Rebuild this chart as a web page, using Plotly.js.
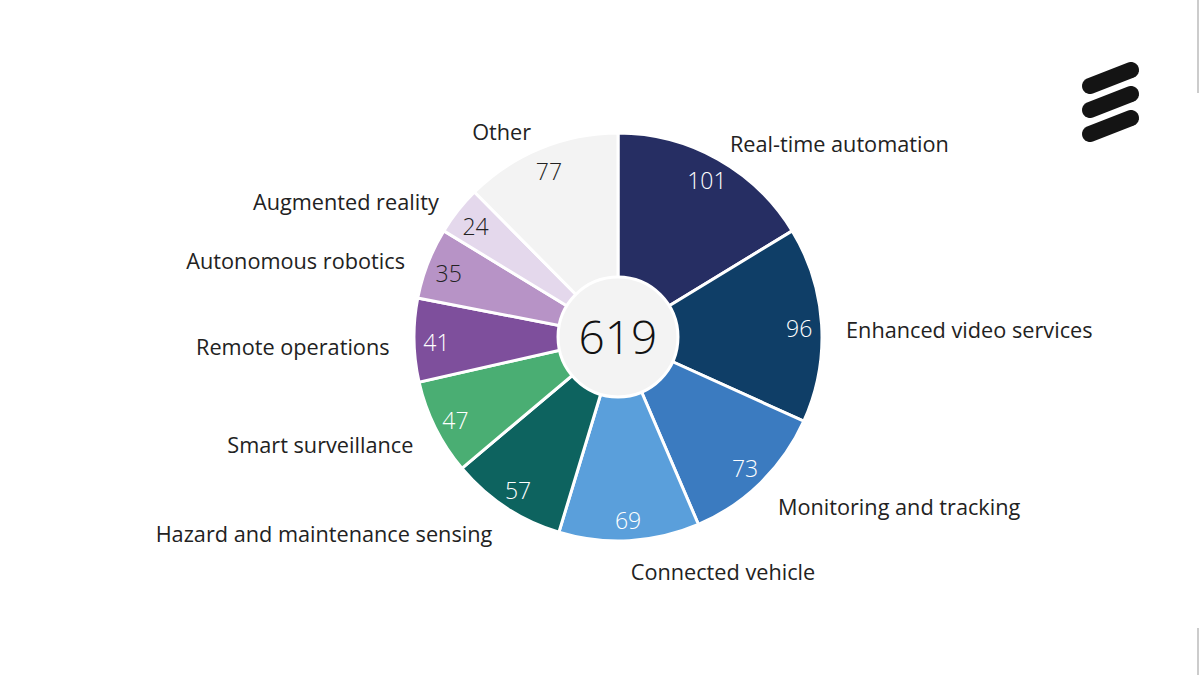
<!DOCTYPE html>
<html>
<head>
<meta charset="utf-8">
<script src="https://cdn.plot.ly/plotly-3.0.1.min.js"></script>
<style>html,body{margin:0;padding:0;background:#fff;}#chart{width:1200px;height:675px;}</style>
</head>
<body>
<div id="chart"></div>
<script>
// ---- data ----
const categories = ["Real-time automation","Enhanced video services","Monitoring and tracking","Connected vehicle","Hazard and maintenance sensing","Smart surveillance","Remote operations","Autonomous robotics","Augmented reality","Other"];
const values = [101, 96, 73, 69, 57, 47, 41, 35, 24, 77];
const colors = ["#262e63","#0f3e67","#3b7bc0","#5a9fdb","#0d635f","#4aae73","#7e4f9c","#b793c6","#e4d8ec","#f3f3f3"];
const valueTextColors = ["#ffffff","#ffffff","#ffffff","#ffffff","#ffffff","#ffffff","#ffffff","#222222","#222222","#222222"];
const centerTotal = 619;

// ---- derived angular layout ----
const total = values.reduce((a,b)=>a+b,0);
const widths = values.map(v => v/total*360);
const mids = [];
let acc = 0;
widths.forEach(w => { mids.push(acc + w/2); acc += w; });

const FONT = "'Open Sans', 'Noto Sans', sans-serif";

const slices = {
  type: "barpolar", subplot: "polar",
  r: values.map(()=>1),
  theta: mids,
  width: widths,
  base: values.map(()=>0),
  marker: {color: colors, line: {color: "#ffffff", width: 3}},
  hoverinfo: "skip",
  showlegend: false
};
const hole = {
  type: "barpolar", subplot: "polar",
  r: [0.294], theta: [0], width: [360], base: [0],
  marker: {color: "#f3f3f3", line: {color: "#ffffff", width: 3}},
  hoverinfo: "skip", showlegend: false
};
const valueText = {
  type: "scatterpolar", mode: "text", subplot: "polar2",
  r: values.map(()=>0.89), theta: mids,
  text: values.map(String),
  textposition: "middle center",
  textfont: {family: FONT, size: 23, color: valueTextColors, weight: 300},
  cliponaxis: false, hoverinfo: "skip", showlegend: false
};
const centerText = {
  type: "scatterpolar", mode: "text", subplot: "polar2",
  r: [0], theta: [0], text: [String(centerTotal)],
  textposition: "middle center",
  textfont: {family: FONT, size: 46, color: "#111111", weight: 300},
  cliponaxis: false, hoverinfo: "skip", showlegend: false
};
const labelText = {
  type: "scatterpolar", mode: "text", subplot: "polar3",
  r: values.map(()=>1.12), theta: mids,
  text: categories,
  textposition: mids.map(m => m < 180 ? "middle right" : "middle left"),
  textfont: {family: FONT, size: 21.7, color: "#222222"},
  cliponaxis: false, hoverinfo: "skip", showlegend: false
};

// ---- logo (Ericsson-style bars) ----
function px(x){return x/1200;}
function py(y){return 1 - y/675;}
function stadium(x1,y1,x2,y2,rad){
  const dx=x2-x1, dy=y2-y1;
  const a=Math.atan2(dy,dx);
  const pts=[];
  const n=12;
  for(let i=0;i<=n;i++){const t=a-Math.PI/2+Math.PI*i/n; pts.push([x2+rad*Math.cos(t), y2+rad*Math.sin(t)]);}
  for(let i=0;i<=n;i++){const t=a+Math.PI/2+Math.PI*i/n; pts.push([x1+rad*Math.cos(t), y1+rad*Math.sin(t)]);}
  return "M" + pts.map(p=>px(p[0]).toFixed(5)+","+py(p[1]).toFixed(5)).join(" L") + " Z";
}
const shapes = [];
[[86,70],[110,94],[134,118]].forEach(([ya,yb])=>{
  shapes.push({type:"path", xref:"paper", yref:"paper", path: stadium(1090,ya,1131,yb,8),
    fillcolor:"#141414", line:{width:0}});
});
shapes.push({type:"line", xref:"paper", yref:"paper", x0:px(1198), x1:px(1198), y0:py(0), y1:py(93), line:{color:"#cccccc", width:2}});
shapes.push({type:"line", xref:"paper", yref:"paper", x0:px(1198), x1:px(1198), y0:py(628), y1:py(675), line:{color:"#cccccc", width:2}});

// polar area: center (618,337), radius 1.0 -> 204px, range up to 1.25
const R = 204, RMAX = 1.25, cx = 618, cy = 337;
const Rp = R*RMAX;
function polarAt(dy){
  return {
    domain: {x: [(cx-Rp)/1200, (cx+Rp)/1200], y: [1-(cy+dy+Rp)/675, 1-(cy+dy-Rp)/675]},
    bgcolor: "rgba(0,0,0,0)",
    bargap: 0,
    radialaxis: {range: [0, RMAX], visible: false, showgrid: false},
    angularaxis: {rotation: 90, direction: "clockwise", visible: false, showgrid: false, showline: false, thetaunit: "degrees"}
  };
}
const layout = {
  width: 1200, height: 675,
  margin: {l:0, r:0, t:0, b:0},
  paper_bgcolor: "#ffffff",
  showlegend: false,
  font: {family: FONT},
  polar: polarAt(0),
  polar2: polarAt(5),
  polar3: polarAt(9),
  shapes: shapes
};
Plotly.newPlot("chart", [slices, hole, valueText, centerText, labelText], layout, {displayModeBar: false, staticPlot: true});
</script>
</body>
</html>
